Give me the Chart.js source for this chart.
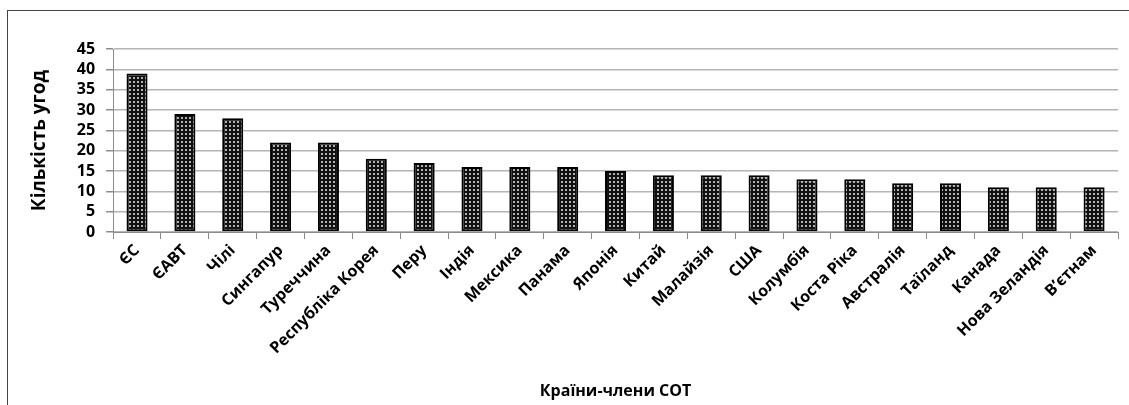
<!DOCTYPE html>
<html lang="uk">
<head>
    <meta charset="UTF-8">
    <title>Кількість угод</title>
    <script src="https://cdn.jsdelivr.net/npm/chart.js"></script>
    <style>
        body {
            margin: 0;
            padding: 0;
            background-color: #fff;
        }
        .frame {
            position: absolute;
            left: 7px;
            top: 10px;
            width: 1130px;
            height: 400px;
            border: 1px solid #444;
        }
        .chart-box {
            position: absolute;
            left: 0;
            top: 0;
            width: 1129px;
            height: 405px;
        }
    </style>
</head>
<body>
    <div class="frame"></div>
    <div class="chart-box">
        <canvas id="agreementsChart"></canvas>
    </div>
    <script>
        const countries = ['ЄС', 'ЄАВТ', 'Чілі', 'Сингапур', 'Туреччина', 'Республіка Корея', 'Перу', 'Індія',
            'Мексика', 'Панама', 'Японія', 'Китай', 'Малайзія', 'США', 'Колумбія', 'Коста Ріка',
            'Австралія', 'Таїланд', 'Канада', 'Нова Зеландія', 'В\u2019єтнам'];
        const agreements = [39, 29, 28, 22, 22, 18, 17, 16, 16, 16, 15, 14, 14, 14, 13, 13, 12, 12, 11, 11, 11];
        const yTicks = [0, 5, 10, 15, 20, 25, 30, 35, 40, 45];

        // крапчаста заливка стовпців
        function makePattern() {
            const p = document.createElement('canvas');
            p.width = 4;
            p.height = 4;
            const c = p.getContext('2d');
            c.fillStyle = '#111';
            c.fillRect(0, 0, 4, 4);
            c.fillStyle = '#b0b0b0';
            c.fillRect(1, 1, 2, 2);
            return c.createPattern(p, 'repeat');
        }

        const font = "'Open Sans', 'Noto Sans', sans-serif";
        const ctx = document.getElementById('agreementsChart').getContext('2d');
        new Chart(ctx, {
            type: 'bar',
            data: {
                labels: countries,
                datasets: [{
                    label: 'Кількість угод',
                    data: agreements,
                    backgroundColor: makePattern(),
                    borderColor: '#000',
                    borderWidth: 2,
                    borderSkipped: false,
                    barPercentage: 0.44,
                    categoryPercentage: 1
                }]
            },
            options: {
                responsive: true,
                maintainAspectRatio: false,
                animation: false,
                layout: {
                    padding: { left: 28, right: 11, top: 49, bottom: 4 }
                },
                plugins: {
                    legend: { display: false },
                    tooltip: { enabled: false }
                },
                scales: {
                    x: {
                        grid: {
                            offset: true,
                            drawOnChartArea: false,
                            tickLength: 7,
                            color: '#8c8c8c'
                        },
                        border: { color: '#8c8c8c', width: 1 },
                        ticks: {
                            color: '#000',
                            minRotation: 45,
                            maxRotation: 45,
                            autoSkip: false,
                            padding: 2,
                            font: { family: font, size: 16, weight: 'bold' }
                        },
                        title: {
                            display: true,
                            text: 'Країни-члени СОТ',
                            color: '#000',
                            padding: { top: 22, bottom: 0 },
                            font: { family: font, size: 16, weight: 'bold' }
                        }
                    },
                    y: {
                        min: 0,
                        max: 45,
                        afterBuildTicks: function (axis) {
                            axis.ticks = yTicks.map(v => ({ value: v }));
                        },
                        grid: {
                            color: '#b4b4b4',
                            lineWidth: 1.5,
                            tickLength: 7,
                            tickColor: '#8c8c8c'
                        },
                        border: { color: '#8c8c8c', width: 1 },
                        ticks: {
                            color: '#000',
                            padding: 11,
                            autoSkip: false,
                            font: { family: font, size: 16, weight: 'bold', lineHeight: 1 }
                        },
                        title: {
                            display: true,
                            text: 'Кількість угод',
                            color: '#000',
                            padding: { top: 0, bottom: 15 },
                            font: { family: font, size: 19, weight: 'bold' }
                        }
                    }
                }
            }
        });
    </script>
</body>
</html>
